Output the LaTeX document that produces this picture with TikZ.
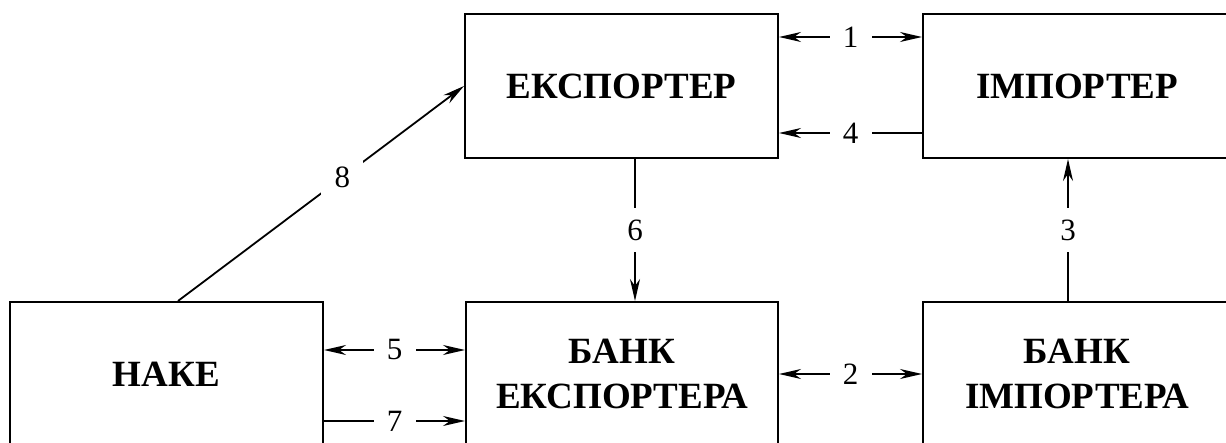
\documentclass[tikz,border=0pt]{standalone}
\usepackage{fontspec}
\setmainfont{Liberation Serif}
\usetikzlibrary{arrows.meta}

\tikzset{
  party/.style={draw, line width=2pt, minimum height=144pt, inner sep=0pt,
    align=center, font=\bfseries\fontsize{37}{45}\selectfont},
  conn/.style={line width=1.8pt,
    arrows={-Stealth[length=22pt,width=10pt,inset=7pt]}},
  both/.style={line width=1.8pt,
    arrows={Stealth[length=22pt,width=10pt,inset=7pt]-Stealth[length=22pt,width=10pt,inset=7pt]}},
  num/.style={fill=white, inner sep=0pt, minimum width=42pt, minimum height=44pt,
    font=\fontsize{31}{31}\selectfont}
}

\begin{document}
\begin{tikzpicture}[x=1pt, y=-1pt]
  \useasboundingbox (0,0) rectangle (1226,443);
  \clip (0,0) rectangle (1226,443);

  % participants
  \node[party, minimum width=313pt] (exp)  at (621.5,86)  {ЕКСПОРТЕР};
  \node[party, minimum width=308pt] (imp)  at (1077,86)   {ІМПОРТЕР};
  \node[party, minimum width=313pt] (nake) at (166.5,374) {НАКЕ};
  \node[party, minimum width=312pt] (bexp) at (622,374)   {БАНК\\ЕКСПОРТЕРА};
  \node[party, minimum width=308pt] (bimp) at (1077,374)  {БАНК\\ІМПОРТЕРА};

  % attachment points
  \coordinate (e1) at ([yshift=-24pt]exp.north east);
  \coordinate (e4) at ([yshift=-120pt]exp.north east);
  \coordinate (e6) at ([xshift=13.5pt]exp.south);
  \coordinate (i3) at ([xshift=-9pt]imp.south);
  \coordinate (n5) at ([yshift=-49pt]nake.north east);
  \coordinate (n7) at ([yshift=-120pt]nake.north east);
  \coordinate (n8) at ([xshift=169pt]nake.north west);

  % flows
  \draw[both] (e1) -- node[num]{1} (e1 -| imp.west);
  \draw[conn] (e4 -| imp.west) -- node[num]{4} (e4);
  \draw[conn] (e6) -- node[num]{6} (e6 |- bexp.north);
  \draw[conn] (i3 |- bimp.north) -- node[num]{3} (i3);
  \draw[both] (n5) -- node[num]{5} (n5 -| bexp.west);
  \draw[conn] (n7) -- node[num]{7} (n7 -| bexp.west);
  \draw[both] (bexp.east) -- node[num]{2} (bimp.west);
  \draw[conn] (n8) -- node[num, pos=0.575]{8} (exp.west);
\end{tikzpicture}
\end{document}
